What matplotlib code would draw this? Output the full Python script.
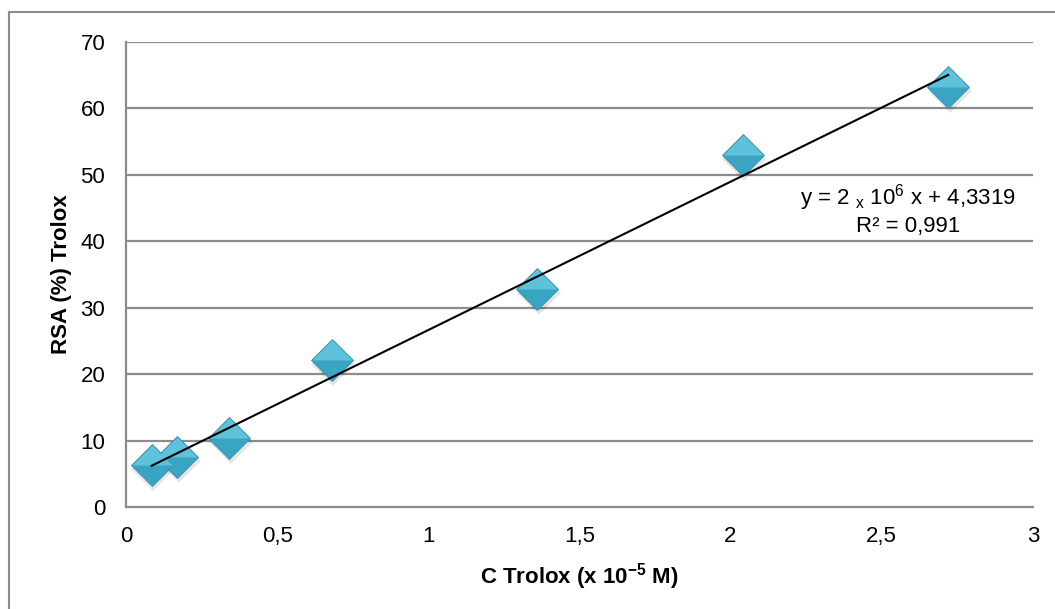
import numpy as np
import matplotlib
matplotlib.use("Agg")
import matplotlib.pyplot as plt
from matplotlib.lines import Line2D

plt.rcParams["font.family"] = ["Liberation Sans", "DejaVu Sans"]
plt.rcParams["mathtext.fontset"] = "custom"
plt.rcParams["mathtext.rm"] = "Liberation Sans"
plt.rcParams["mathtext.bf"] = "Liberation Sans:bold"

# Trolox concentration (x 10^-5 M) and radical scavenging activity (%)
conc = [0.085, 0.17, 0.34, 0.68, 1.36, 2.04, 2.72]
rsa = [6.3, 7.5, 10.4, 22.1, 32.8, 53.0, 63.2]
x_ticks = [0, 0.5, 1, 1.5, 2, 2.5, 3]
x_tick_labels = ["0", "0,5", "1", "1,5", "2", "2,5", "3"]
y_ticks = [0, 10, 20, 30, 40, 50, 60, 70]

GRID = "#8c8c8c"
MS = 21.5
TOP_HALF = [(-1, 0), (0, 1), (1, 0), (-1, 0)]


def main():
    fig = plt.figure(figsize=(10.55, 6.09), dpi=100)
    ax = fig.add_axes([0.1194, 0.1675, 0.8596, 0.7635])

    # outer chart border (only left and top edges are in frame)
    fig.add_artist(Line2D([0.0085, 0.0085], [0, 0.980], transform=fig.transFigure,
                          color=GRID, linewidth=1.5))
    fig.add_artist(Line2D([0.0085, 1.0], [0.980, 0.980], transform=fig.transFigure,
                          color=GRID, linewidth=1.5))

    for yv in y_ticks[1:]:
        ax.axhline(yv, color=GRID, linewidth=1.6, zorder=1)

    x = np.array(conc)
    y = np.array(rsa)
    slope, intercept = np.polyfit(x, y, 1)

    # soft shadow under the markers
    ax.plot(x + 0.006, y - 0.6, linestyle="none", marker="D", markersize=MS + 1,
            color="#000000", alpha=0.10, markeredgewidth=0, zorder=2)
    ax.plot(x, y, linestyle="none", marker="D", markersize=MS,
            markerfacecolor="#3aa5c2", markeredgecolor="#2f8fab",
            markeredgewidth=0.6, zorder=3)
    # lighter top half for the bevelled look
    ax.plot(x, y, linestyle="none", marker=TOP_HALF, markersize=MS * 1.414 - 1.5,
            markerfacecolor="#5ec2dc", markeredgewidth=0, zorder=3)

    xf = np.array([x.min(), x.max()])
    ax.plot(xf, slope * xf + intercept, color="black", linewidth=1.5, zorder=4)

    ax.text(2.587, 44.8,
            "y = 2 $_{\\mathrm{x}}$ 10$^{6}$ x + 4,3319\nR² = 0,991",
            ha="center", va="center", fontsize=16, linespacing=1.15, zorder=5)

    ax.set_xlim(0, 3)
    ax.set_ylim(0, 70)
    ax.set_xticks(x_ticks)
    ax.set_xticklabels(x_tick_labels)
    ax.set_yticks(y_ticks)
    ax.tick_params(length=0, labelsize=16)
    ax.tick_params(axis="y", pad=15)
    ax.tick_params(axis="x", pad=14)

    for side in ["top", "right"]:
        ax.spines[side].set_visible(False)
    for side in ["left", "bottom"]:
        ax.spines[side].set_color(GRID)
        ax.spines[side].set_linewidth(1.6)

    ax.set_xlabel("C Trolox (x 10$^{\\mathbf{-5}}$ M)", fontsize=16, fontweight="bold",
                  labelpad=10)
    ax.set_ylabel("RSA (%) Trolox", fontsize=16, fontweight="bold", labelpad=6)

    fig.savefig("out.png", dpi=100)
    plt.close(fig)


if __name__ == "__main__":
    main()
